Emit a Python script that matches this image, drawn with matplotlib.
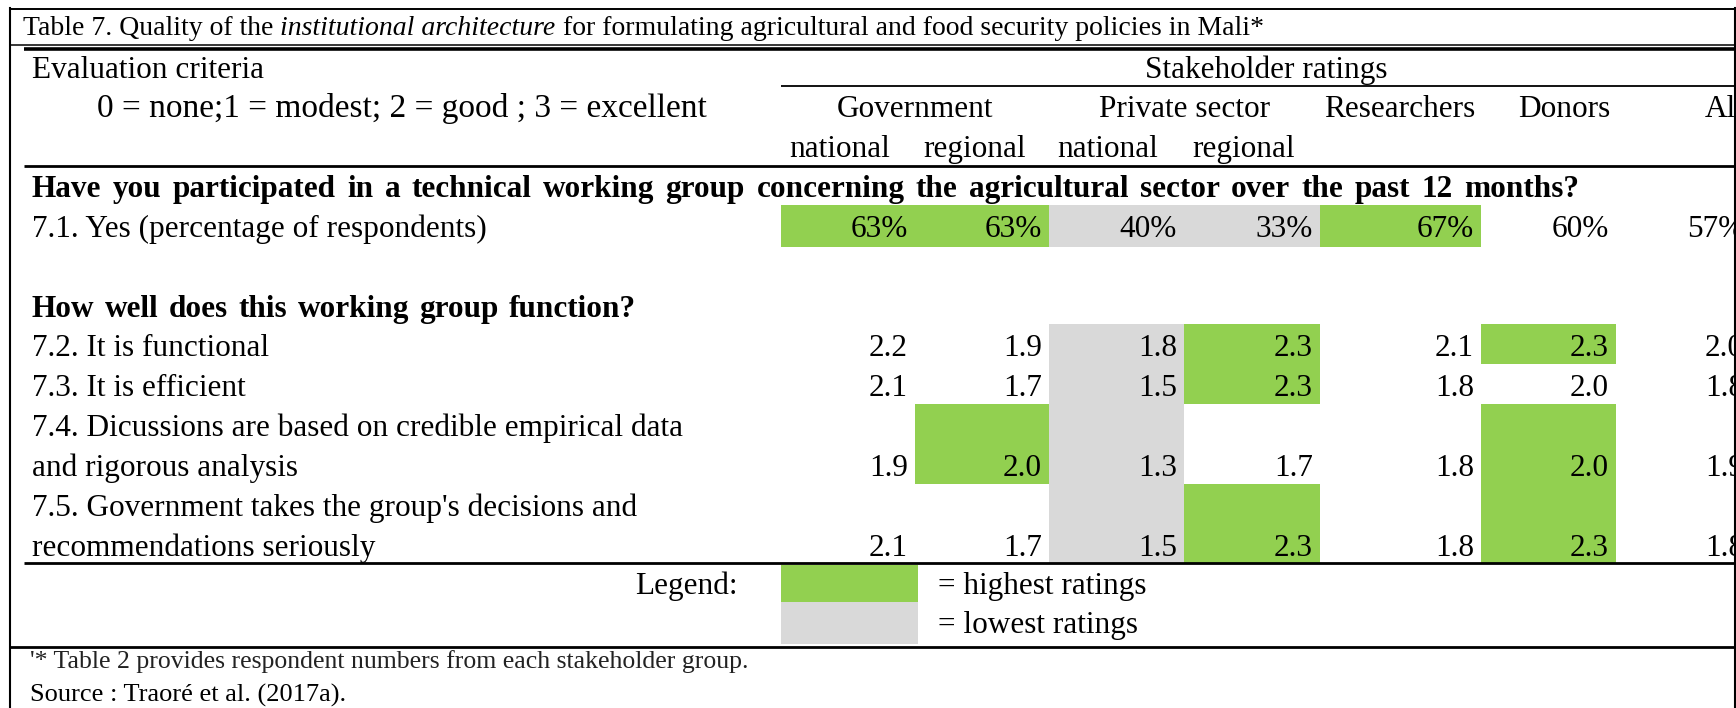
import matplotlib.pyplot as plt
from matplotlib.patches import Rectangle

plt.rcParams['font.family'] = ['Liberation Serif', 'DejaVu Serif']

# --- DATA ---
title_pre = "Table 7. Quality of the"
title_ital = "institutional architecture"
title_post = "for formulating agricultural and food security policies in Mali*"
groups = ["Government", "Private sector"]
subcols = ["national", "regional", "national", "regional"]
single_cols = ["Researchers", "Donors", "All"]
q1 = "Have you participated in a technical working group concerning the agricultural sector over the past 12 months?"
q2 = "How well does this working group function?"
yes_label = "7.1. Yes (percentage of respondents)"
yes_pct = [63, 63, 40, 33, 67, 60, 57]
yes_mark = ["high", "high", "low", "low", "high", "", ""]
criteria = [
    ["7.2. It is functional"],
    ["7.3. It is efficient"],
    ["7.4. Dicussions are based on credible empirical data", "and rigorous analysis"],
    ["7.5. Government takes the group's decisions and", "recommendations seriously"],
]
ratings = [
    [2.2, 1.9, 1.8, 2.3, 2.1, 2.3, 2.0],
    [2.1, 1.7, 1.5, 2.3, 1.8, 2.0, 1.8],
    [1.9, 2.0, 1.3, 1.7, 1.8, 2.0, 1.9],
    [2.1, 1.7, 1.5, 2.3, 1.8, 2.3, 1.8],
]
marks = [
    ["", "", "low", "high", "", "high", ""],
    ["", "", "low", "high", "", "", ""],
    ["", "high", "low", "", "", "high", ""],
    ["", "", "low", "high", "", "high", ""],
]
footnote = "'* Table 2 provides respondent numbers from each stakeholder group."
source = "Source : Traoré et al. (2017a)."

# --- LAYOUT (pixels) ---
W, H = 1736, 708
GREEN = '#92D050'
GRAY = '#D9D9D9'
col_edges = [781, 915, 1049, 1184, 1320, 1481, 1616, 1751]
FS = 22.5    # body
FS_B = 22.5  # bold questions
FS_T = 20    # title
FS_F = 18.5  # footnote
fill = {"high": GREEN, "low": GRAY}

fig = plt.figure(figsize=(W / 100, H / 100), dpi=100)
ax = fig.add_axes([0, 0, 1, 1])
ax.set_xlim(0, W)
ax.set_ylim(H, 0)
ax.axis('off')
renderer = fig.canvas.get_renderer()


def tw(s, **kw):
    t = ax.text(0, 0, s, **kw)
    w = t.get_window_extent(renderer).width
    t.remove()
    return w


def hline(y, x0, x1, lw):
    ax.plot([x0, x1], [y, y], color='black', lw=lw, solid_capstyle='butt')


def spaced(x, y, s, extra, **kw):
    # draw word by word with a bit of extra spacing (wider source font)
    sp = tw("x x", **kw) - tw("xx", **kw)
    for word in s.split(" "):
        ax.text(x, y, word, va='baseline', ha='left', **kw)
        x += tw(word, **kw) + sp + extra


# title with italic part
x = 23
sp = tw("x x", fontsize=FS_T) - tw("xx", fontsize=FS_T)
for seg, st in [(title_pre, 'normal'), (title_ital, 'italic'), (title_post, 'normal')]:
    ax.text(x, 35, seg, fontsize=FS_T, style=st, va='baseline', ha='left')
    x += tw(seg, fontsize=FS_T, style=st) + sp

# header
ax.text(32, 78, "Evaluation criteria", fontsize=FS, va='baseline')
ax.text((col_edges[0] + col_edges[-1]) / 2, 78, "Stakeholder ratings", fontsize=FS, va='baseline', ha='center')
ax.text(402, 117, "0 = none;1 = modest; 2 = good ; 3 = excellent", fontsize=FS + 1.5, va='baseline', ha='center')
for i, g in enumerate(groups):
    cx = (col_edges[2 * i] + col_edges[2 * i + 2]) / 2
    ax.text(cx, 117, g, fontsize=FS, va='baseline', ha='center')
for i, c in enumerate(single_cols):
    ax.text(col_edges[5 + i] - 6, 117, c, fontsize=FS, va='baseline', ha='right')
for i, c in enumerate(subcols):
    ax.text(col_edges[i] + 8, 157, c, fontsize=FS, va='baseline', ha='left')

# question 1
spaced(32, 197, q1, 3.5, fontsize=FS_B, weight='bold')
for i, v in enumerate(yes_pct):
    if yes_mark[i]:
        ax.add_patch(Rectangle((col_edges[i], 205), col_edges[i + 1] - col_edges[i], 42,
                               color=fill[yes_mark[i]], lw=0))
    ax.text(col_edges[i + 1] - 7, 237, f"{v}%", fontsize=FS, va='baseline', ha='right')
ax.text(32, 237, yes_label, fontsize=FS, va='baseline')

# question 2
spaced(32, 317, q2, 2.5, fontsize=FS_B, weight='bold')
y = 324
for lab, vals, mk in zip(criteria, ratings, marks):
    h = 40 * len(lab)
    for i, v in enumerate(vals):
        if mk[i]:
            ax.add_patch(Rectangle((col_edges[i], y), col_edges[i + 1] - col_edges[i], h,
                                   color=fill[mk[i]], lw=0))
        ax.text(col_edges[i + 1] - 7, y + h - 8, f"{v:.1f}", fontsize=FS, va='baseline', ha='right')
    for k, line in enumerate(lab):
        ax.text(32, y + 40 * k + 32, line, fontsize=FS, va='baseline')
    y += h

# legend
ax.add_patch(Rectangle((781, 565), 137, 37, color=GREEN, lw=0))
ax.add_patch(Rectangle((781, 602), 137, 42, color=GRAY, lw=0))
ax.text(738, 594, "Legend:", fontsize=FS, va='baseline', ha='right')
ax.text(938, 594, "= highest ratings", fontsize=FS, va='baseline')
ax.text(938, 633, "= lowest ratings", fontsize=FS, va='baseline')

# notes
ax.text(30, 668, footnote, fontsize=FS_F, va='baseline', color='#222222')
ax.text(30, 702, source, fontsize=19, va='baseline')

# rules
hline(9, 9, 1736, 1.4)
hline(45, 9, 1736, 1.1)
hline(48.5, 24, 1736, 2.6)
hline(86, 781, 1736, 1.3)
hline(166, 24, 1736, 2.0)
hline(563, 24, 1736, 2.0)
hline(647, 9, 1736, 2.0)
ax.plot([10, 10], [8, H], color='black', lw=1.5)
ax.plot([1734.5, 1734.5], [8, H], color='black', lw=1.5)

fig.savefig("out.png", dpi=100)
